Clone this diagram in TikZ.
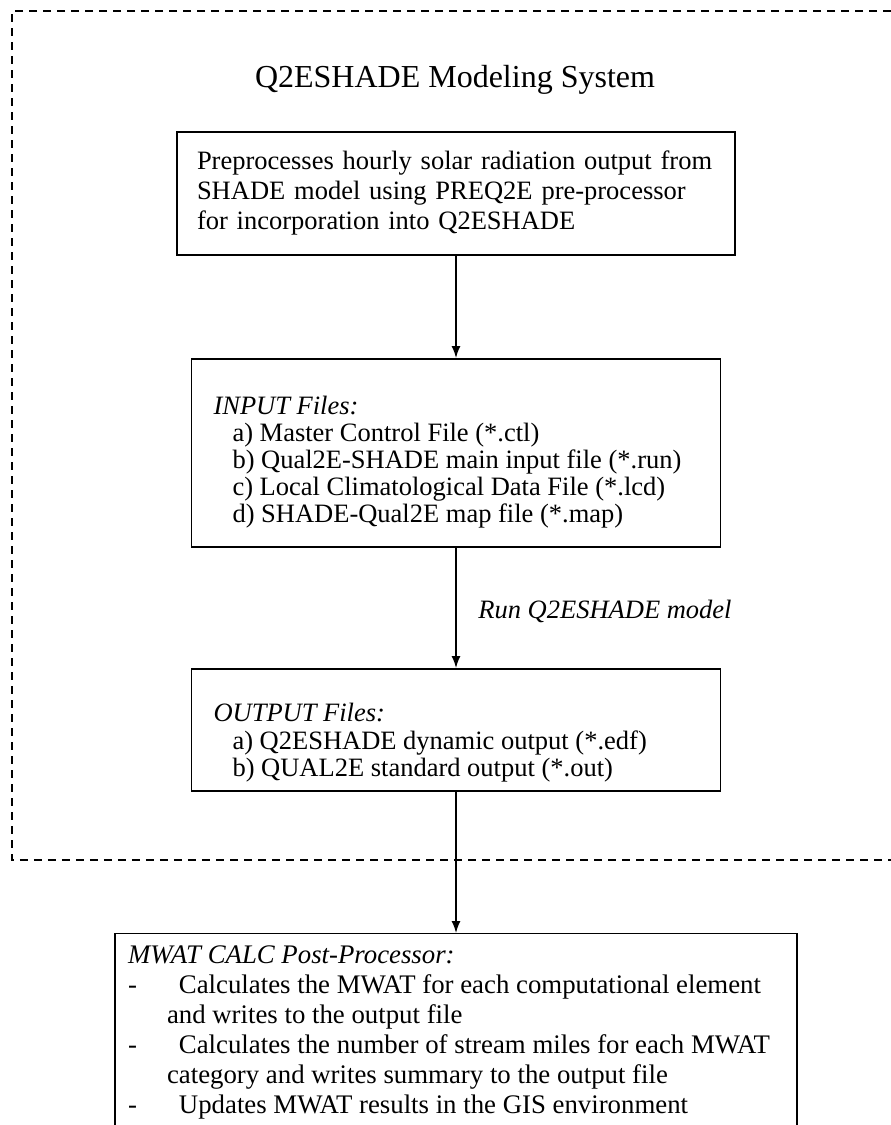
\documentclass[tikz,border=0pt]{standalone}
\usepackage{fontspec}
\setmainfont{Liberation Serif}
\usetikzlibrary{arrows.meta}
\newcommand\myBody{\fontsize{13.25pt}{15pt}\selectfont}
\begin{document}
\begin{tikzpicture}[x=0.5pt,y=-0.5pt,
  boxnode/.style={draw, line width=0.9pt, align=left, inner ysep=0pt, font=\myBody},
  arr/.style={line width=0.7pt, -{Latex[length=6pt,width=4.5pt]}},
  frameline/.style={dash pattern=on 4pt off 3pt, line width=1pt}]
\useasboundingbox (0,0) rectangle (890,1125);
\draw[frameline] (905,11) -- (12,11) -- (12,860) -- (905,860);
\node[font=\fontsize{16pt}{19pt}\selectfont] (title) at (455,80) {Q2ESHADE Modeling System};
\node[boxnode, anchor=north, inner xsep=10pt, minimum height=61.5pt, text width=259pt] (pre) at (456,131)
  {Preprocesses hourly solar radiation output from\\SHADE model using PREQ2E pre-processor\\for incorporation into Q2ESHADE};
\node[boxnode, anchor=north, inner xsep=11pt] (inp) at (456,358)
  {\parbox[c][94pt][t]{242.5pt}{\fontsize{13.25pt}{13.4pt}\selectfont
   \rule{0pt}{28pt}\textit{INPUT Files:}\\
   \hspace*{9.5pt}a) Master Control File (*.ctl)\\
   \hspace*{9.5pt}b) Qual2E-SHADE main input file (*.run)\\
   \hspace*{9.5pt}c) Local Climatological Data File (*.lcd)\\
   \hspace*{9.5pt}d) SHADE-Qual2E map file (*.map)}};
\node[anchor=west, inner sep=0pt, font=\myBody\itshape] (run) at (478,611) {Run Q2ESHADE model};
\node[boxnode, anchor=north, inner xsep=11pt] (out) at (456,668)
  {\parbox[c][61pt][t]{242.5pt}{\fontsize{13.25pt}{13.75pt}\selectfont
   \rule{0pt}{26.5pt}\textit{OUTPUT Files:}\\
   \hspace*{9.5pt}a) Q2ESHADE dynamic output (*.edf)\\
   \hspace*{9.5pt}b) QUAL2E standard output (*.out)}};
\node[boxnode, line width=0.6pt, anchor=north, inner xsep=6.5pt, inner ysep=6pt] (mwat) at (456,933)
  {\parbox[c][118pt][t]{328pt}{\fontsize{13.4pt}{15pt}\selectfont\textit{MWAT CALC Post-Processor:}\\
   \rlap{-}\hspace*{25.5pt}Calculates the MWAT for each computational element\\
   \hspace*{19.5pt}and writes to the output file\\
   \rlap{-}\hspace*{25.5pt}Calculates the number of stream miles for each MWAT\\
   \hspace*{19.5pt}category and writes summary to the output file\\
   \rlap{-}\hspace*{25.5pt}Updates MWAT results in the GIS environment}};
\draw[arr] (pre.south) -- (pre.south |- inp.north);
\draw[arr] (inp.south) -- (inp.south |- out.north);
\draw[arr] (out.south) -- (out.south |- mwat.north);
\end{tikzpicture}
\end{document}
